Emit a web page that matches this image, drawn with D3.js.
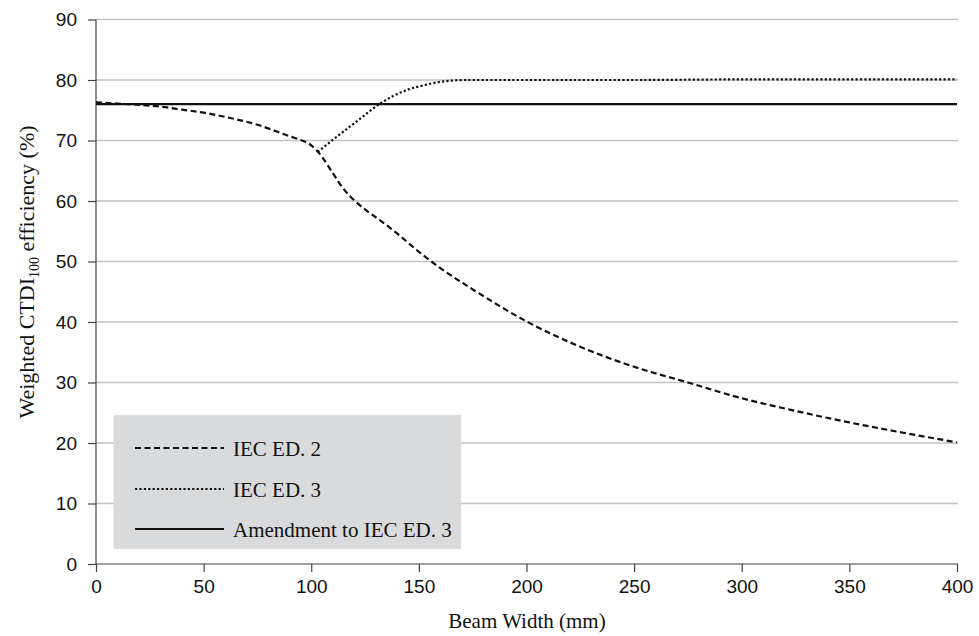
<!DOCTYPE html>
<html>
<head>
<meta charset="utf-8">
<script src="https://cdn.jsdelivr.net/npm/d3@7"></script>
<style>
  body { margin: 0; background: #fff; }
  svg { display: block; }
</style>
</head>
<body>
<div id="chart"></div>
<script>
// values
var ed2Width = [0, 10, 20, 30, 40, 50, 60, 75, 90, 95, 100, 105, 110, 115, 120, 125, 132, 140, 150, 160, 175, 200, 225, 250, 275, 300, 325, 350, 375, 400];
var ed2Eff   = [76.3, 76.1, 75.9, 75.6, 75.1, 74.6, 73.9, 72.6, 70.7, 70.1, 69.2, 67.3, 64.6, 62.0, 60.1, 58.6, 56.8, 54.6, 51.6, 48.9, 45.4, 40.1, 35.9, 32.6, 30.0, 27.4, 25.3, 23.4, 21.7, 20.1];
var ed3Width = [103, 110, 122, 132, 144, 152, 160, 172, 200, 250, 300, 350, 400];
var ed3Eff   = [68.1, 70.1, 73.4, 76.1, 78.3, 79.1, 79.7, 80.0, 80.0, 80.0, 80.1, 80.1, 80.1];
var amendWidth = [0, 400];
var amendEff   = [76, 76];

var xTicks = [0, 50, 100, 150, 200, 250, 300, 350, 400];
var yTicks = [0, 10, 20, 30, 40, 50, 60, 70, 80, 90];
var legendLabels = ["IEC ED. 2", "IEC ED. 3", "Amendment to IEC ED. 3"];

var w = 979, h = 636;
var mLeft = 96, mRight = 957, mTop = 19.5, mBottom = 564;

var svg = d3.select("#chart").append("svg")
    .attr("width", w)
    .attr("height", h);

var xScale = d3.scaleLinear().domain([0, 400]).range([mLeft, mRight]);
var yScale = d3.scaleLinear().domain([0, 90]).range([mBottom, mTop]);

// gridlines
svg.append("g")
    .selectAll("line")
    .data(yTicks.slice(1))
    .enter()
    .append("line")
    .attr("x1", mLeft)
    .attr("x2", mRight + 1)
    .attr("y1", function(d) { return yScale(d); })
    .attr("y2", function(d) { return yScale(d); })
    .attr("stroke", "#c2c2c2")
    .attr("stroke-width", 1.3);

// axes
var yAxis = d3.axisLeft(yScale).tickValues(yTicks).tickSize(8).tickPadding(11);
var xAxis = d3.axisBottom(xScale).tickValues(xTicks).tickSize(8).tickPadding(8);

var gy = svg.append("g").attr("transform", "translate(" + mLeft + ",0)").call(yAxis);
var gx = svg.append("g").attr("transform", "translate(0," + mBottom + ")").call(xAxis);

[gx, gy].forEach(function(g) {
    g.select(".domain").attr("stroke", "#444").attr("stroke-width", 1.2);
    g.selectAll(".tick line").attr("stroke", "#444").attr("stroke-width", 1.2);
    g.selectAll(".tick text")
        .attr("fill", "#111")
        .style("font-family", "'Liberation Sans', Arial, sans-serif")
        .style("font-size", "19px");
});
gx.select(".domain").attr("d", "M" + mLeft + ",0H" + (mRight + 1));
gy.select(".domain").attr("d", "M0," + mBottom + "V" + mTop);

// legend box (drawn before lines, sits over gridlines)
var lg = svg.append("g");
lg.append("rect")
    .attr("x", 113.5)
    .attr("y", 415)
    .attr("width", 347.5)
    .attr("height", 134)
    .attr("fill", "#d9dadc");

var line = d3.line()
    .x(function(d) { return xScale(d[0]); })
    .y(function(d) { return yScale(d[1]); })
    .curve(d3.curveMonotoneX);

var series = [
    { w: ed2Width, e: ed2Eff, dash: "6,3.5" },
    { w: ed3Width, e: ed3Eff, dash: "2.2,2.2" },
    { w: amendWidth, e: amendEff, dash: null }
];

series.forEach(function(s) {
    var pts = s.w.map(function(v, i) { return [v, s.e[i]]; });
    svg.append("path")
        .datum(pts)
        .attr("d", line)
        .attr("fill", "none")
        .attr("stroke", "#111")
        .attr("stroke-width", 2.2)
        .attr("stroke-dasharray", s.dash);
});

// legend entries
var rowY = [448, 489, 529];
legendLabels.forEach(function(lab, i) {
    lg.append("line")
        .attr("x1", 135)
        .attr("x2", 224)
        .attr("y1", rowY[i])
        .attr("y2", rowY[i])
        .attr("stroke", "#111")
        .attr("stroke-width", 2)
        .attr("stroke-dasharray", series[i].dash);
    lg.append("text")
        .attr("x", 233)
        .attr("y", rowY[i] + 7.5)
        .text(lab)
        .attr("fill", "#111")
        .style("font-family", "'Liberation Serif', 'Times New Roman', serif")
        .style("font-size", "21px");
});

// axis titles
svg.append("text")
    .attr("x", 527)
    .attr("y", 628)
    .attr("text-anchor", "middle")
    .attr("fill", "#111")
    .style("font-family", "'Liberation Serif', 'Times New Roman', serif")
    .style("font-size", "21px")
    .text("Beam Width (mm)");

var yt = svg.append("text")
    .attr("transform", "translate(34,272) rotate(-90)")
    .attr("text-anchor", "middle")
    .attr("fill", "#111")
    .style("font-family", "'Liberation Serif', 'Times New Roman', serif")
    .style("font-size", "22px");
yt.append("tspan").text("Weighted CTDI");
yt.append("tspan").attr("dy", 5).style("font-size", "14px").text("100");
yt.append("tspan").attr("dy", -5).text(" efficiency (%)");
</script>
</body>
</html>
